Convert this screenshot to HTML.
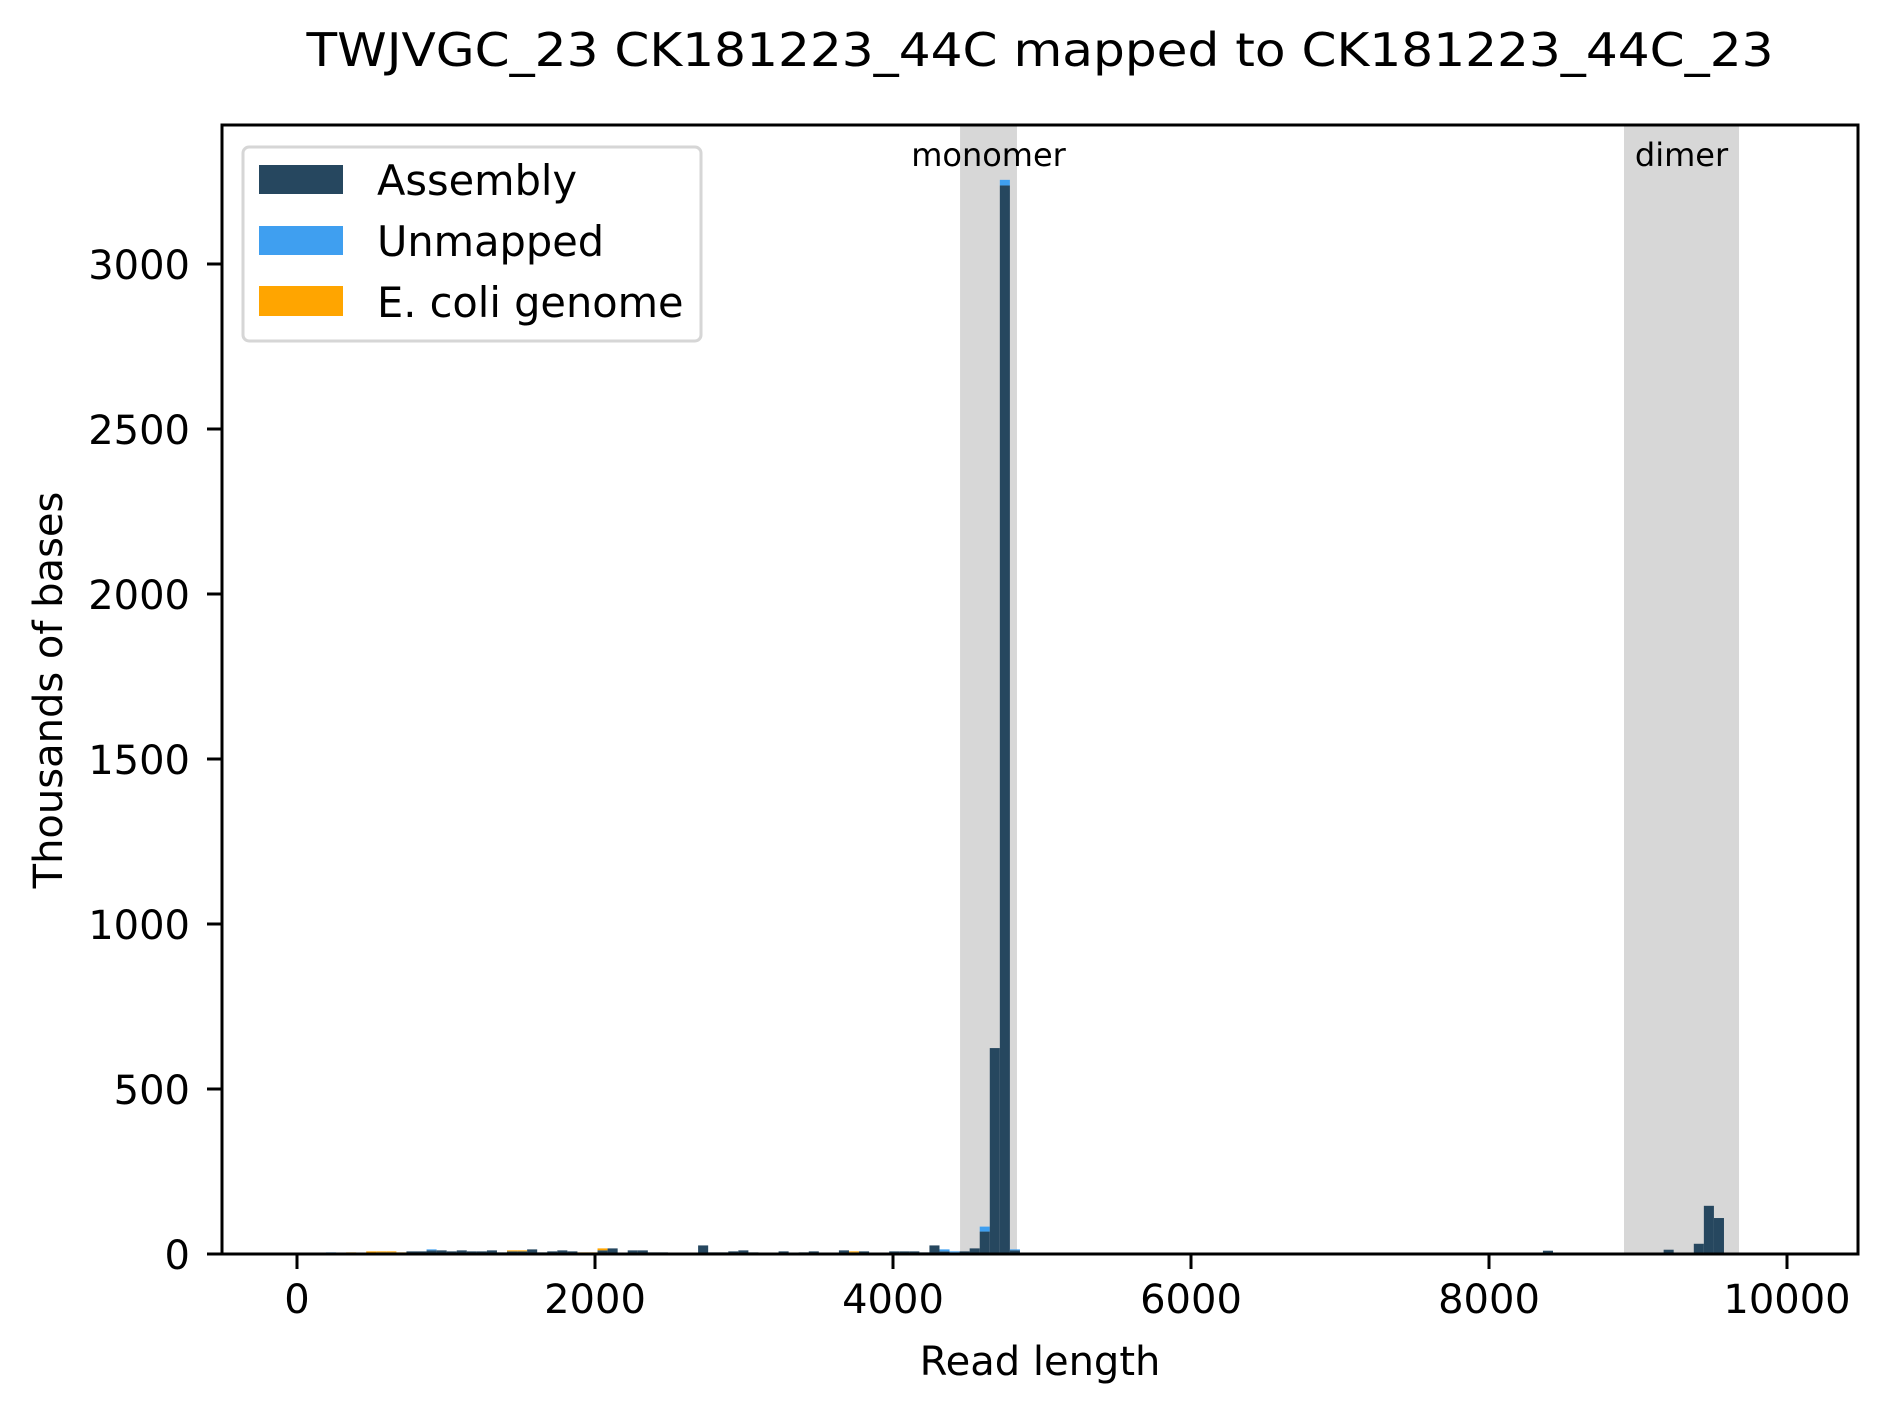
<!DOCTYPE html>
<html><head><meta charset="utf-8"><style>
body{margin:0;background:#fff}
svg{display:block;font-family:"DejaVu Sans","Liberation Sans",sans-serif}
</style></head><body>
<svg id="chart" width="1888" height="1409" viewBox="0 0 1888 1409">
<text x="1040" y="66" font-size="46" text-anchor="middle" textLength="1467" lengthAdjust="spacingAndGlyphs">TWJVGC_23 CK181223_44C mapped to CK181223_44C_23</text>
<g id="bands"></g>
<g id="bars"></g>
<g id="axes"></g>
<text x="1040" y="1375" font-size="40" text-anchor="middle">Read length</text>
<text transform="translate(62,690) rotate(-90)" font-size="40" text-anchor="middle">Thousands of bases</text>
<g>
<rect x="243" y="147" width="458" height="194" rx="6" fill="#fff" fill-opacity="0.8" stroke="#d6d6d6" stroke-width="3"/>
<rect x="259" y="165" width="84" height="29" fill="#26475f"/>
<text x="377" y="195" font-size="41.5">Assembly</text>
<rect x="259" y="226" width="84" height="29" fill="#3f9ff0"/>
<text x="377" y="256" font-size="41.5">Unmapped</text>
<rect x="259" y="286" width="84" height="30" fill="#ffa500"/>
<text x="377" y="317" font-size="41.5">E. coli genome</text>
</g>
</svg>
<script>
const binStart = 127;
const binWidth = 67.5;
const assembly = [1,2,2,2,0,3,5,5,2,8,8,11,11,8,11,8,8,11,5,8,8,14,5,8,11,8,2,2,11,17,0,11,11,5,5,0,2,0,26,5,5,8,11,5,2,2,8,0,5,8,0,2,11,5,8,2,2,8,8,8,5,26,8,5,8,17,68,624,3238,11,0,0,0,2,0,0,0,0,0,0,0,0,0,2,0,2,0,0,0,0,0,2,0,0,2,0,0,0,0,0,0,0,0,0,0,0,0,0,0,0,0,0,0,0,0,0,0,0,0,0,0,0,10,0,0,0,0,0,0,0,0,0,4,0,13,0,0,31,146,109];
const unmapped = {0:1,1:3,11:3,62:6,63:3,66:15,68:17,69:3};
const ecoli = {3:3,4:2,5:5,6:3,7:3,8:3,19:3,20:3,26:3,27:3,28:6,30:2,53:3};
const regions = [["monomer",4450,4832],["dimer",8906,9678]];
const xTicks = [0,2000,4000,6000,8000,10000];
const yTicks = [0,500,1000,1500,2000,2500,3000];

const NS = "http://www.w3.org/2000/svg";
const X0 = 297, XS = 0.149, Y0 = 1254, YS = 0.33;
const L = 222, R = 1858, T = 125, B = 1254;
function xs(v){return X0 + v*XS;}
function ys(v){return Y0 - v*YS;}
function mk(tag, attrs, parent){const e=document.createElementNS(NS,tag);for(const k in attrs)e.setAttribute(k,attrs[k]);parent.appendChild(e);return e;}

const bands = document.getElementById('bands');
regions.forEach(r=>{
  const g = mk('rect',{x:xs(r[1]),y:T,width:xs(r[2])-xs(r[1]),height:B-T,fill:'#d7d7d7'},bands);
  
  
  const t = mk('text',{x:(xs(r[1])+xs(r[2]))/2,y:166,'font-size':32,'text-anchor':'middle'},bands);
  t.textContent = r[0];
  
  
});

const bars = document.getElementById('bars');
const series = [["assembly","#26475f",k=>assembly[k]||0],["unmapped","#3f9ff0",k=>unmapped[k]||0],["ecoli","#ffa500",k=>ecoli[k]||0]];
for(let k=0;k<assembly.length;k++){
  let base = 0;
  const x1 = xs(binStart + k*binWidth), x2 = xs(binStart + (k+1)*binWidth);
  series.forEach(s=>{
    const v = s[2](k);
    if(v>0){
      const r = mk('rect',{x:x1,y:ys(base+v),width:x2-x1,height:ys(base)-ys(base+v),fill:s[1]},bars);
      
      
    }
    base += v;
  });
}

const axes = document.getElementById('axes');
const frame = mk('rect',{x:L,y:T,width:R-L,height:B-T,fill:'none',stroke:'#000','stroke-width':3},axes);


xTicks.forEach(v=>{
  mk('line',{x1:xs(v),x2:xs(v),y1:B,y2:B+15,stroke:'#000','stroke-width':3},axes);
  const t = mk('text',{x:xs(v),y:1313,'font-size':40,'text-anchor':'middle'},axes);
  t.textContent = v;
  
  
});
yTicks.forEach(v=>{
  mk('line',{x1:L-15,x2:L,y1:ys(v),y2:ys(v),stroke:'#000','stroke-width':3},axes);
  const t = mk('text',{x:190,y:ys(v)+15,'font-size':40,'text-anchor':'end'},axes);
  t.textContent = v;
  
  
});
</script>
</body></html>
